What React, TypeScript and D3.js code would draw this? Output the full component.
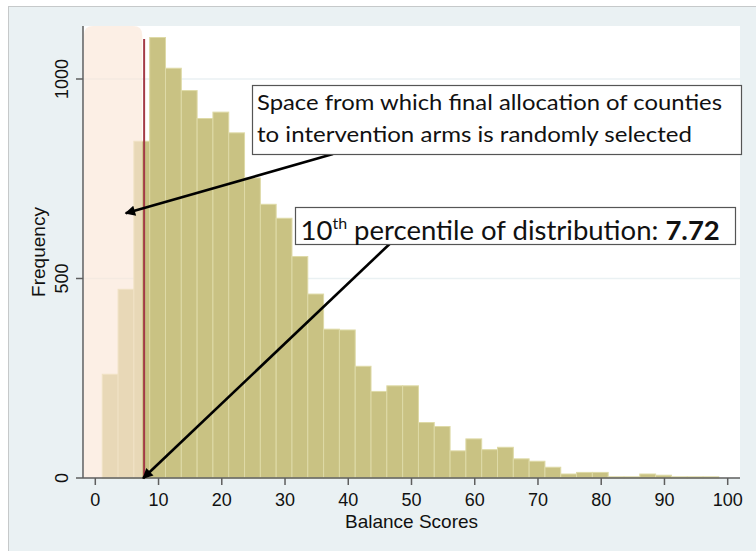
import { useEffect, useRef } from 'react';
import * as d3 from 'd3';

// histogram of balance scores: 39 bins, first bin starts at 1.1, width 2.5
const binStart = 1.1;
const binWidth = 2.5;
const counts = [
  260, 473, 844, 1104, 1027, 971, 901, 917, 865, 752,
  686, 651, 555, 461, 373, 371, 280, 217, 231, 231,
  139, 129, 68, 98, 71, 77, 48, 42, 27, 10,
  14, 14, 3, 3, 10, 7, 3, 3, 3,
];
const xTicks = [0, 10, 20, 30, 40, 50, 60, 70, 80, 90, 100];
const yTicks = [0, 500, 1000];
const yGrid = [500, 1000];
const percentile10 = 7.72;
const shadeRange = [0, 7.42];

const W = 756;
const H = 551;

export default function App() {
  const svgRef = useRef<SVGSVGElement>(null);

  useEffect(() => {
    if (!svgRef.current) return;
    const svg = d3.select(svgRef.current);
    svg.selectAll('*').remove();

    const plot = { left: 83, right: 740, top: 26, bottom: 478 };
    const x = d3.scaleLinear().domain([0, 100]).range([95.3, 727.7]);
    const y = d3.scaleLinear().domain([0, 1000]).range([478, 79]);

    const defs = svg.append('defs');
    defs.append('marker')
      .attr('id', 'head')
      .attr('viewBox', '0 0 10 10')
      .attr('refX', 9)
      .attr('refY', 5)
      .attr('markerWidth', 5)
      .attr('markerHeight', 4)
      .attr('markerUnits', 'strokeWidth')
      .attr('orient', 'auto')
      .append('path')
      .attr('d', 'M0,0 L10,5 L0,10 Z')
      .attr('fill', '#000');

    // outer graph region
    svg.append('rect').attr('x', 0).attr('y', 0).attr('width', W).attr('height', H).attr('fill', '#fff');
    svg.append('rect')
      .attr('x', 8.5).attr('y', 6.5).attr('width', W).attr('height', H)
      .attr('fill', '#eaf1f3').attr('stroke', '#c6c9ca').attr('stroke-width', 1);

    // plot region
    svg.append('rect')
      .attr('x', plot.left).attr('y', plot.top)
      .attr('width', plot.right - plot.left).attr('height', plot.bottom - plot.top)
      .attr('fill', '#fff');

    // grid
    svg.append('g').selectAll('line').data(yGrid).enter().append('line')
      .attr('x1', plot.left).attr('x2', plot.right)
      .attr('y1', (d) => y(d)).attr('y2', (d) => y(d))
      .attr('stroke', '#eaf1f3').attr('stroke-width', 1.5);

    // bars
    svg.append('g').selectAll('rect').data(counts).enter().append('rect')
      .attr('x', (_, i) => x(binStart + i * binWidth))
      .attr('y', (d) => y(d))
      .attr('width', (_, i) => x(binStart + (i + 1) * binWidth) - x(binStart + i * binWidth))
      .attr('height', (d) => y(0) - y(d))
      .attr('fill', '#c9c283')
      .attr('stroke', '#dedaa7')
      .attr('stroke-width', 1);

    // shaded selection space
    const sx0 = x(shadeRange[0]) - 11.3;
    const sx1 = x(shadeRange[1]);
    const r = 9;
    const top = plot.top;
    const bot = plot.bottom;
    svg.append('path')
      .attr('d', `M${sx0},${bot} L${sx0},${top + r} Q${sx0},${top} ${sx0 + r},${top} L${sx1 - r},${top} Q${sx1},${top} ${sx1},${top + r} L${sx1},${bot} Z`)
      .attr('fill', 'rgb(250,229,214)')
      .attr('fill-opacity', 0.63);

    // 10th percentile line
    svg.append('line')
      .attr('x1', x(percentile10)).attr('x2', x(percentile10))
      .attr('y1', 39).attr('y2', y(0))
      .attr('stroke', '#a33a46').attr('stroke-width', 2);

    // axes
    const axisColor = '#5e5e5e';
    const sans = 'Liberation Sans, Arial, sans-serif';
    svg.append('line')
      .attr('x1', plot.left).attr('x2', plot.left).attr('y1', plot.top).attr('y2', plot.bottom)
      .attr('stroke', axisColor).attr('stroke-width', 1.5);
    svg.append('line')
      .attr('x1', plot.left).attr('x2', plot.right).attr('y1', plot.bottom).attr('y2', plot.bottom)
      .attr('stroke', axisColor).attr('stroke-width', 1.5);

    const xg = svg.append('g');
    xg.selectAll('line').data(xTicks).enter().append('line')
      .attr('x1', (d) => x(d)).attr('x2', (d) => x(d))
      .attr('y1', plot.bottom).attr('y2', plot.bottom + 7)
      .attr('stroke', axisColor).attr('stroke-width', 1.5);
    xg.selectAll('text').data(xTicks).enter().append('text')
      .attr('x', (d) => x(d)).attr('y', 506)
      .attr('text-anchor', 'middle')
      .attr('font-family', sans)
      .attr('font-size', 18)
      .attr('fill', '#111')
      .text((d) => d);

    const yg = svg.append('g');
    yg.selectAll('line').data(yTicks).enter().append('line')
      .attr('x1', plot.left - 7).attr('x2', plot.left)
      .attr('y1', (d) => y(d)).attr('y2', (d) => y(d))
      .attr('stroke', axisColor).attr('stroke-width', 1.5);
    yg.selectAll('text').data(yTicks).enter().append('text')
      .attr('transform', (d) => `translate(68,${y(d)}) rotate(-90)`)
      .attr('text-anchor', 'middle')
      .attr('font-family', sans)
      .attr('font-size', 18)
      .attr('fill', '#111')
      .text((d) => d);

    svg.append('text')
      .attr('x', (plot.left + plot.right) / 2).attr('y', 527.5)
      .attr('text-anchor', 'middle')
      .attr('font-family', sans)
      .attr('font-size', 19)
      .attr('fill', '#111')
      .text('Balance Scores');
    svg.append('text')
      .attr('transform', `translate(45,${(plot.top + plot.bottom) / 2}) rotate(-90)`)
      .attr('text-anchor', 'middle')
      .attr('font-family', sans)
      .attr('font-size', 19)
      .attr('fill', '#111')
      .text('Frequency');

    // annotation arrows
    svg.append('line')
      .attr('x1', 333).attr('y1', 154).attr('x2', 125.7).attr('y2', 213.3)
      .attr('stroke', '#000').attr('stroke-width', 2.6)
      .attr('marker-end', 'url(#head)');
    svg.append('line')
      .attr('x1', 389.6).attr('y1', 244).attr('x2', x(percentile10) - 1).attr('y2', 478.3)
      .attr('stroke', '#000').attr('stroke-width', 2.6)
      .attr('marker-end', 'url(#head)');

    // annotation boxes
    const font = 'Lato, Calibri, sans-serif';
    svg.append('rect')
      .attr('x', 252.5).attr('y', 85.5).attr('width', 489).attr('height', 69)
      .attr('fill', '#fff').attr('stroke', '#555').attr('stroke-width', 1.2);
    svg.append('text')
      .attr('x', 257).attr('y', 109.5)
      .attr('font-family', font).attr('font-size', 22).attr('fill', '#111')
      .attr('textLength', 465).attr('lengthAdjust', 'spacingAndGlyphs')
      .text('Space from which final allocation of counties');
    svg.append('text')
      .attr('x', 257).attr('y', 141.5)
      .attr('font-family', font).attr('font-size', 22).attr('fill', '#111')
      .attr('textLength', 435).attr('lengthAdjust', 'spacingAndGlyphs')
      .text('to intervention arms is randomly selected');

    svg.append('rect')
      .attr('x', 295.5).attr('y', 207.5).attr('width', 440).attr('height', 37)
      .attr('fill', '#fff').attr('stroke', '#555').attr('stroke-width', 1.2);
    const t2 = svg.append('text')
      .attr('x', 300.5).attr('y', 239.5)
      .attr('font-family', font).attr('font-size', 27.5).attr('fill', '#111');
    t2.append('tspan').text('10');
    t2.append('tspan').attr('font-size', 16).attr('dy', -11).text('th');
    t2.append('tspan').attr('dy', 11).text(' percentile of distribution: ');
    t2.append('tspan').attr('font-weight', 'bold').text('7.72');
  }, []);

  return (
    <svg
      ref={svgRef}
      width={W}
      height={H}
      style={{ position: 'absolute', left: 0, top: 0, display: 'block' }}
    />
  );
}
